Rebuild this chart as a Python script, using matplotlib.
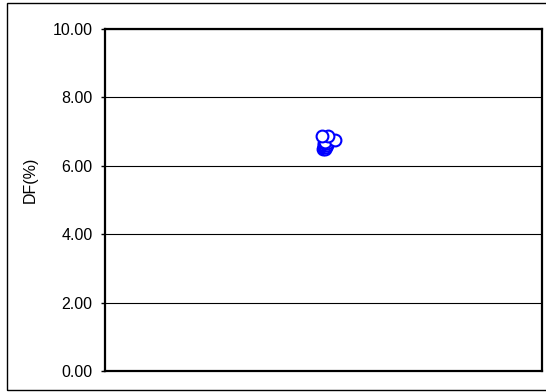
import matplotlib
matplotlib.use("Agg")
import matplotlib.pyplot as plt
from matplotlib.patches import Rectangle

plt.rcParams['font.family'] = ['Liberation Sans', 'DejaVu Sans']

# data (lower, overlapping points first; top points drawn last)
x_vals = [4.98, 5.00, 5.03, 5.01, 5.05, 5.00, 5.07, 5.02, 5.09, 5.04, 5.26, 5.11, 4.96]
df_vals = [6.48, 6.52, 6.50, 6.56, 6.56, 6.62, 6.60, 6.66, 6.66, 6.70, 6.76, 6.87, 6.87]
y_ticks = [0, 2, 4, 6, 8, 10]
y_ticklabels = ["0.00", "2.00", "4.00", "6.00", "8.00", "10.00"]

fig = plt.figure(figsize=(5.46, 3.92), dpi=100)
fig.patches.append(Rectangle((7/546, 2/392), 1.2, 1 - 5/392, transform=fig.transFigure,
                             fill=False, edgecolor='black', linewidth=1.0, zorder=0))

ax = fig.add_axes([105/546, 1 - 371/392, 437/546, 342/392])
ax.set_xlim(0, 10)
ax.set_ylim(0, 10)
ax.set_yticks(y_ticks)
ax.set_yticklabels(y_ticklabels, fontsize=11.5)
ax.set_xticks([])
ax.yaxis.grid(True, color='black', linewidth=0.8)
ax.set_axisbelow(True)
for s in ax.spines.values():
    s.set_linewidth(1.6)
    s.set_color('black')
ax.tick_params(axis='y', direction='out', length=3, width=1, pad=6)
ax.set_ylabel("DF(%)", fontsize=11.5)
ax.yaxis.set_label_coords(-0.155, 0.558)

ax.plot(x_vals, df_vals, linestyle='none', marker='o', markersize=8.5,
        markerfacecolor='white', markeredgecolor='#0000ff', markeredgewidth=1.5, zorder=3)

fig.savefig("out.png", dpi=100)
